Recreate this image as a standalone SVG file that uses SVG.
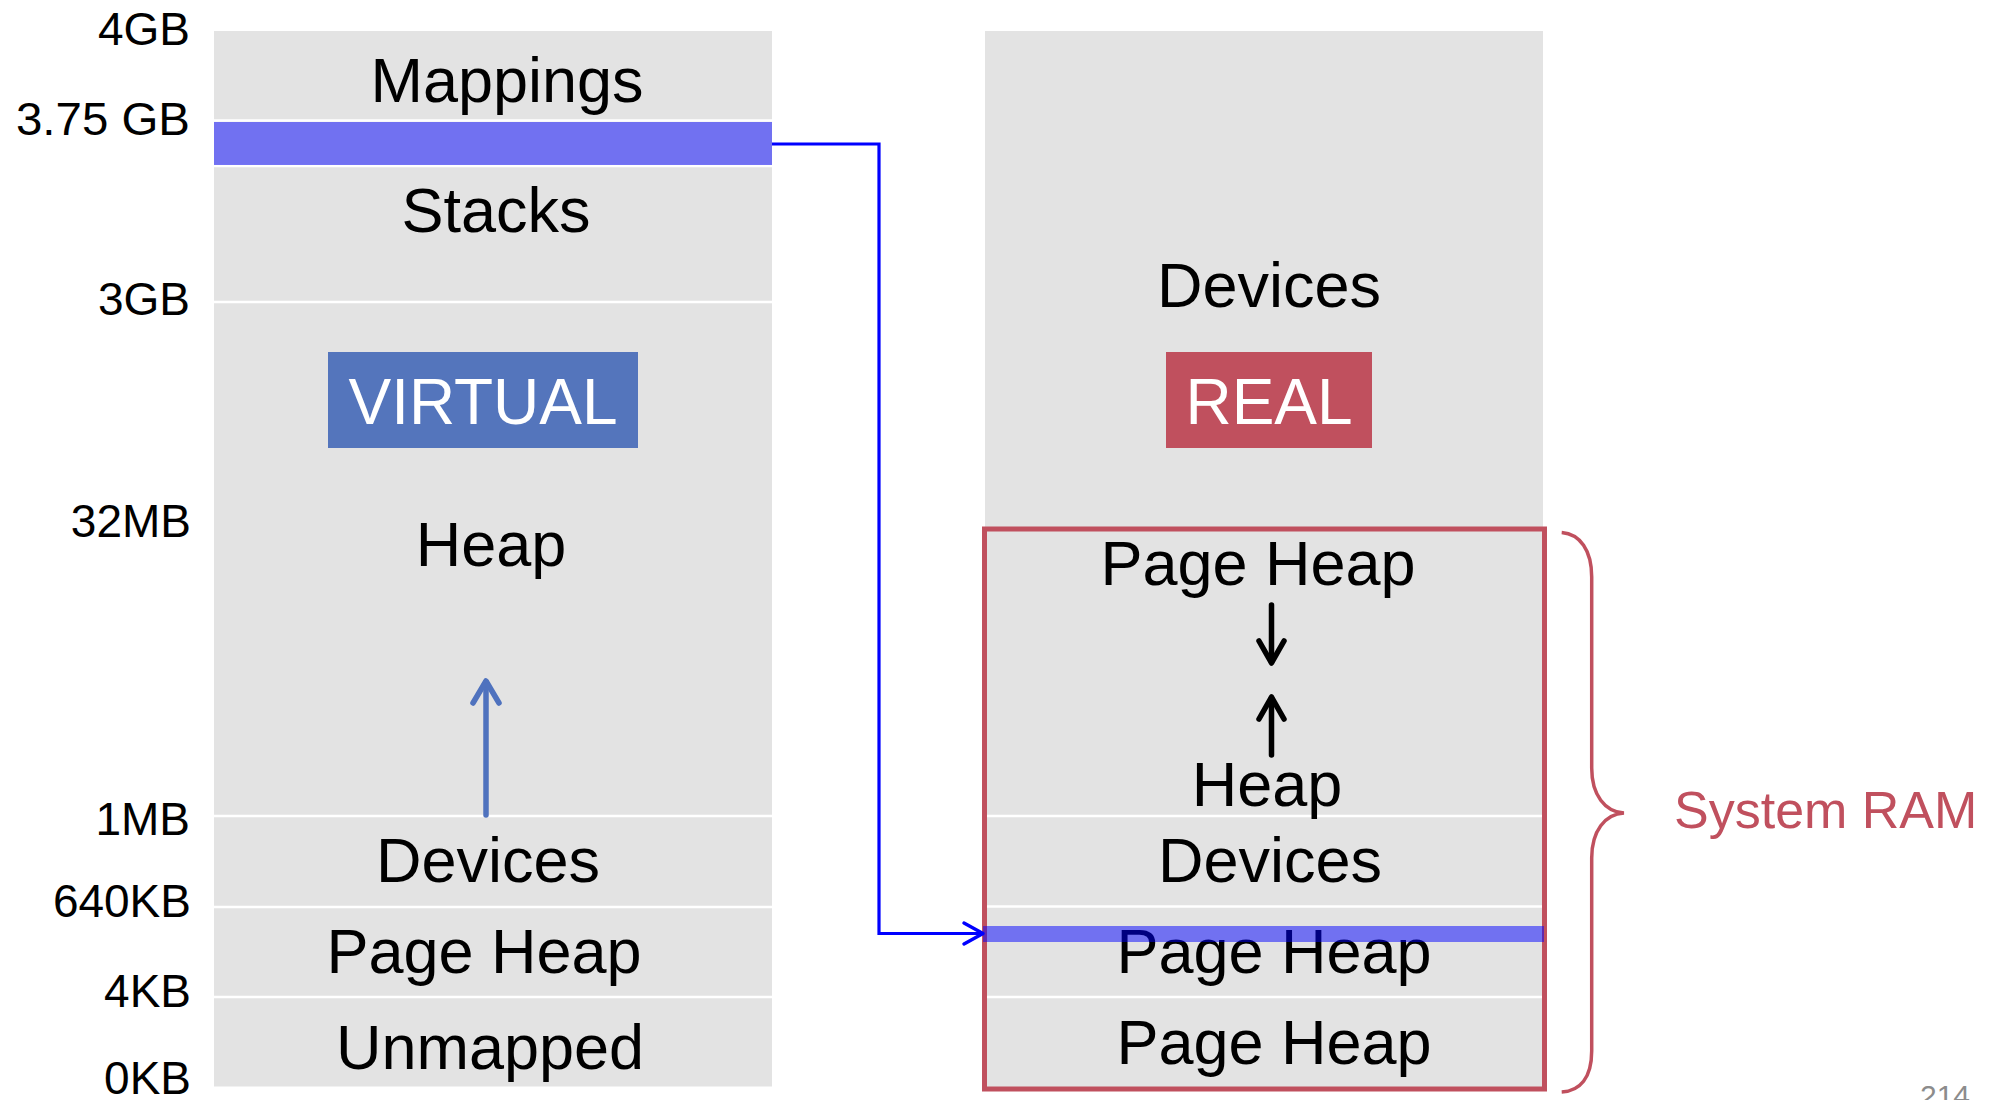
<svg xmlns="http://www.w3.org/2000/svg" width="2010" height="1100" viewBox="0 0 2010 1100">
  <style>
    text { font-family: "Liberation Sans", Arial, sans-serif; }
    .col { fill: #e3e3e3; }
    .sep { stroke: #ffffff; stroke-width: 2.5; }
    .seg { font-size: 63px; fill: #000000; text-anchor: middle; }
    .addr { font-size: 46px; fill: #000000; text-anchor: end; }
    .tag { font-size: 64px; fill: #ffffff; text-anchor: middle; }
    .band { fill: #0000ff; fill-opacity: 0.5; }
    .grow { fill: none; stroke-width: 5.5; stroke-linecap: round; stroke-linejoin: round; }
    .ram { fill: none; stroke: #c0505e; }
  </style>

  <!-- address labels -->
  <g id="addresses">
    <text class="addr" x="190" y="45">4GB</text>
    <text class="addr" x="190" y="135" textLength="174" lengthAdjust="spacingAndGlyphs">3.75 GB</text>
    <text class="addr" x="190" y="315">3GB</text>
    <text class="addr" x="191" y="537">32MB</text>
    <text class="addr" x="190" y="835">1MB</text>
    <text class="addr" x="191" y="917">640KB</text>
    <text class="addr" x="191" y="1007">4KB</text>
    <text class="addr" x="191" y="1094">0KB</text>
  </g>

  <!-- virtual address space column -->
  <g id="virtual-space">
    <rect class="col" x="214" y="31" width="558" height="1055.5"/>
    <line class="sep" x1="214" y1="120.5" x2="772" y2="120.5"/>
    <line class="sep" x1="214" y1="166" x2="772" y2="166"/>
    <line class="sep" x1="214" y1="302" x2="772" y2="302"/>
    <line class="sep" x1="214" y1="816" x2="772" y2="816"/>
    <line class="sep" x1="214" y1="907" x2="772" y2="907"/>
    <line class="sep" x1="214" y1="997" x2="772" y2="997"/>
  </g>
  <g id="v-mappings"><text class="seg" x="507" y="102">Mappings</text></g>
  <g id="v-mapped-page"><rect class="band" x="214" y="122" width="558" height="43"/></g>
  <g id="v-stacks"><text class="seg" x="496" y="232">Stacks</text></g>
  <g id="v-label">
    <rect x="328" y="352" width="310" height="96" fill="#5475bc"/>
    <text class="tag" x="483" y="424">VIRTUAL</text>
  </g>
  <g id="v-heap">
    <text class="seg" x="491" y="566">Heap</text>
    <line class="grow" stroke="#4f72be" x1="486" y1="815" x2="486" y2="682"/>
    <polyline class="grow" stroke="#4f72be" points="473,703 486,681 499,703"/>
  </g>
  <g id="v-devices"><text class="seg" x="488" y="882">Devices</text></g>
  <g id="v-page-heap"><text class="seg" x="484" y="973">Page Heap</text></g>
  <g id="v-unmapped"><text class="seg" x="490" y="1069">Unmapped</text></g>

  <!-- real (physical) address space column -->
  <g id="real-space">
    <rect class="col" x="985" y="31" width="558" height="1057"/>
    <line class="sep" x1="985" y1="816" x2="1543" y2="816"/>
    <line class="sep" x1="985" y1="906.5" x2="1543" y2="906.5"/>
    <line class="sep" x1="985" y1="997" x2="1543" y2="997"/>
  </g>
  <g id="r-devices-high"><text class="seg" x="1269" y="307">Devices</text></g>
  <g id="r-label">
    <rect x="1166" y="352" width="206" height="96" fill="#c0505e"/>
    <text class="tag" x="1269" y="424">REAL</text>
  </g>
  <g id="r-page-heap-top">
    <text class="seg" x="1258" y="585">Page Heap</text>
    <line class="grow" stroke="#000000" x1="1271.5" y1="605" x2="1271.5" y2="662"/>
    <polyline class="grow" stroke="#000000" points="1259,641 1271.5,663 1284,641"/>
  </g>
  <g id="r-heap">
    <line class="grow" stroke="#000000" x1="1271.5" y1="755" x2="1271.5" y2="698"/>
    <polyline class="grow" stroke="#000000" points="1259,719 1271.5,697 1284,719"/>
    <text class="seg" x="1267" y="806">Heap</text>
  </g>
  <g id="r-devices-low"><text class="seg" x="1270" y="882">Devices</text></g>
  <g id="r-page-heap-mid"><text class="seg" x="1274" y="973">Page Heap</text></g>
  <g id="r-page-heap-low"><text class="seg" x="1274" y="1064">Page Heap</text></g>

  <!-- system RAM outline and brace -->
  <g id="system-ram">
    <rect class="ram" x="984.5" y="529" width="560" height="560" stroke-width="5"/>
    <path class="ram" stroke-width="3.5" d="M1561.7,532.5 C1580,534 1591.7,550 1591.7,577 V768 C1591.7,795 1605,812 1624,813 C1605,814 1591.7,831 1591.7,858 V1051 C1591.7,1078 1580,1091 1561.7,1092"/>
    <text x="1674" y="828" font-size="52" fill="#c0505e">System RAM</text>
  </g>
  <g id="r-mapped-page"><rect class="band" x="983" y="926" width="561" height="16"/></g>

  <!-- mapping from virtual page to physical page -->
  <g id="connectors">
    <path d="M772,144 H879 V933.5 H981" fill="none" stroke="#0000ff" stroke-width="3.2"/>
    <polyline points="964,923 983,933.5 964,944" fill="none" stroke="#0000ff" stroke-width="3.5" stroke-linecap="round" stroke-linejoin="round"/>
  </g>

  <text x="1920" y="1106" font-size="30" fill="#8c8c8c">214</text>
</svg>
